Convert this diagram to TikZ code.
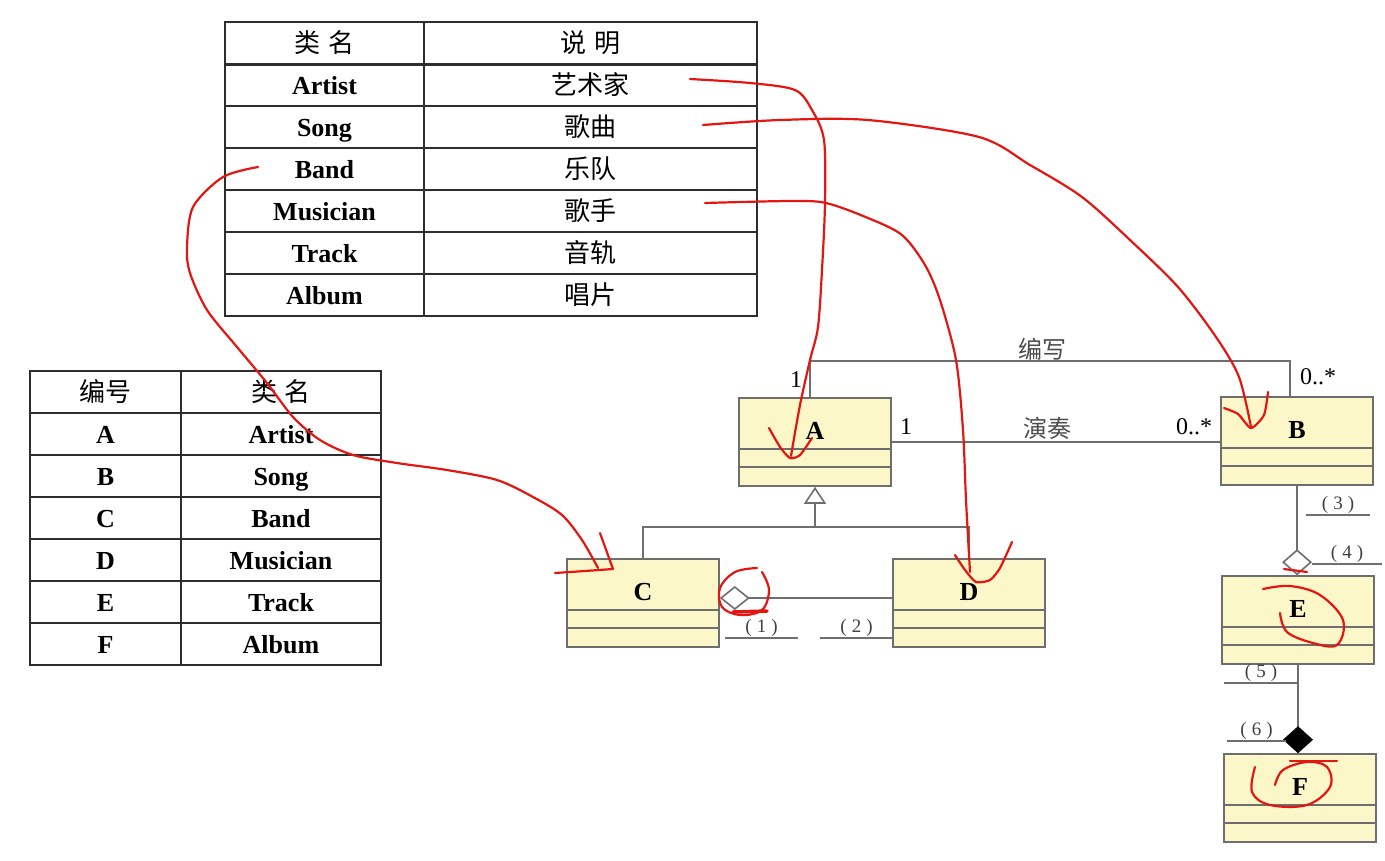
\documentclass[tikz,border=0pt]{standalone}
\usepackage{fontspec}
\setmainfont{Liberation Serif}
\newfontfamily\cjk{Noto Sans CJK SC}
\usetikzlibrary{arrows.meta,positioning,calc}
\definecolor{grid}{RGB}{45,45,45}
\definecolor{umlline}{RGB}{110,110,110}
\definecolor{umlfill}{RGB}{251,247,200}
\definecolor{ink}{RGB}{228,22,18}
\tikzset{
  cell/.style={draw=grid, line width=1.6pt, minimum height=42pt, inner sep=0pt,
               text height=21pt, text depth=3pt, font=\fontsize{26}{30}\selectfont\bfseries},
  zhcell/.style={cell, font=\fontsize{26}{30}\selectfont\cjk},
  umlclass/.style={draw=umlline, fill=umlfill, line width=1.6pt, minimum width=152pt,
               minimum height=88pt, text depth=22pt, font=\fontsize{26}{30}\selectfont\bfseries},
  assoc/.style={draw=umlline, line width=1.6pt},
  mult/.style={font=\fontsize{24}{28}\selectfont, inner sep=1pt},
  role/.style={font=\fontsize{24}{28}\selectfont\cjk, text=black!70, inner sep=1pt},
  blank/.style={font=\fontsize{19}{22}\selectfont, text=black!75, anchor=south, inner sep=1pt},
  pen/.style={ink, line width=2.2pt, line cap=round, line join=round},
}

\begin{document}
\begin{tikzpicture}[x=1pt, y=-1pt]
  \useasboundingbox (0,0) rectangle (1385,860);
  \fill[white] (0,0) rectangle (1385,860);

  % class name / description table
  \node[zhcell, minimum width=199pt] (hcls) at (324.5,43) {类\hspace{8pt}名};
  \node[zhcell, minimum width=333pt] (hdesc) at (590.5,43) {说\hspace{8pt}明};
  \foreach \en/\zh [count=\i] in {Artist/艺术家, Song/歌曲, Band/乐队, Musician/歌手, Track/音轨, Album/唱片} {
    \node[cell, minimum width=199pt] (en\i) at (324.5,{43+42*\i}) {\en};
    \node[zhcell, minimum width=333pt] (zh\i) at (590.5,{43+42*\i}) {\zh};
  }
  \draw[grid, line width=2.6pt] (hcls.south west) -- (hdesc.south east);

  % letter / class name table
  \node[zhcell, minimum width=151pt] (hkey) at (105.5,392) {编号};
  \node[zhcell, minimum width=200pt] (hname) at (281,392) {类\hspace{8pt}名};
  \foreach \k/\nm [count=\i] in {A/Artist, B/Song, C/Band, D/Musician, E/Track, F/Album} {
    \node[cell, minimum width=151pt] (k\i) at (105.5,{392+42*\i}) {\k};
    \node[cell, minimum width=200pt] (nm\i) at (281,{392+42*\i}) {\nm};
  }

  % classes
  \node[umlclass] (A) at (815,442) {A};
  \node[umlclass] (B) at (1297,441) {B};
  \node[umlclass] (C) at (643,603) {C};
  \node[umlclass] (D) at (969,603) {D};
  \node[umlclass] (E) at (1298,620) {E};
  \node[umlclass] (F) at (1300,798) {F};
  \foreach \cls in {A,B,C,D,E,F} {
    \draw[assoc] ([yshift=-52pt]\cls.north west) -- ([yshift=-52pt]\cls.north east);
    \draw[assoc] ([yshift=-70pt]\cls.north west) -- ([yshift=-70pt]\cls.north east);
  }

  % associations
  \draw[assoc] ([xshift=-5pt]A.north) -- ++(0,-36) -| ([xshift=-7pt]B.north);
  \draw[assoc] (A.east) -- (A.east -| B.west);
  \node[role] (write) at (1042,349) {编写};
  \node[role] (play) at (1047,428) {演奏};
  \node[mult] (mA1) at (796,380) {1};
  \node[mult] (mB1) at (1318,377) {0..*};
  \node[mult] (mA2) at (906,427) {1};
  \node[mult] (mB2) at (1194,427) {0..*};

  % generalization, aggregation, composition
  \draw[assoc] (C.north) |- ([yshift=-40pt]A.south) -| (D.north);
  \draw[assoc, -{Triangle[open, length=17pt, width=22pt]}] ([yshift=-40pt]A.south) -- (A.south);
  \draw[assoc, {Diamond[open, length=30pt, width=24pt]}-] ([yshift=5pt]C.east) -- ([yshift=5pt]C.east -| D.west);
  \draw[assoc, -{Diamond[open, length=26pt, width=30pt]}] (B.south) -- (B.south |- E.north);
  \draw[assoc, -{Diamond[color=black, fill=black, length=27pt, width=30pt]}] (E.south) -- (E.south |- F.north);

  % blanks
  \node[blank, minimum width=73pt] (q1) at (761.5,638) {(\hspace{5pt}1\hspace{5pt})};
  \node[blank, minimum width=73pt] (q2) at (856.5,638) {(\hspace{5pt}2\hspace{5pt})};
  \node[blank, minimum width=64pt] (q3) at (1338,515) {(\hspace{5pt}3\hspace{5pt})};
  \node[blank, minimum width=70pt] (q4) at (1347,564) {(\hspace{5pt}4\hspace{5pt})};
  \node[blank, minimum width=74pt] (q5) at (1261,683) {(\hspace{5pt}5\hspace{5pt})};
  \node[blank, minimum width=59pt] (q6) at (1256.5,741) {(\hspace{5pt}6\hspace{5pt})};
  \foreach \q in {1,...,6}
    \draw[assoc] (q\q.south west) -- (q\q.south east);

  % red pen marks
  \draw[pen] plot[smooth, tension=0.5] coordinates {(690,79) (750,83) (795,90) (812,110) (824,140) (825,203) (822,270) (818,327) (810,360) (800,405) (791,456)};
  \draw[pen] plot[smooth, tension=0.4] coordinates {(769,428) (780,447) (790,458) (800,455) (812,438)};
  \draw[pen] plot[smooth, tension=0.5] coordinates {(703,125) (780,120) (868,120) (979,137) (1030,165) (1082,197) (1130,240) (1178,287) (1216,337) (1239,377) (1251,427)};
  \draw[pen] plot[smooth, tension=0.4] coordinates {(1224,408) (1238,414) (1251,428) (1264,415) (1268,392)};
  \draw[pen] plot[smooth, tension=0.5] coordinates {(705,203) (790,201) (826,203) (868,218) (902,235) (925,265) (940,300) (956,360) (963,430) (966,500) (970,572)};
  \draw[pen] plot[smooth, tension=0.4] coordinates {(955,555) (965,570) (976,582) (990,580) (1000,568) (1012,542)};
  \draw[pen] plot[smooth, tension=0.5] coordinates {(258,167) (223,177) (193,207) (187,247) (190,273) (207,310) (237,347) (267,383) (293,417) (320,440) (353,455) (397,463) (447,470) (497,480) (533,497) (562,515) (582,540) (598,568)};
  \draw[pen] plot coordinates {(555,573) (585,571) (613,569) (600,533)};
  \draw[pen] plot[smooth, tension=0.6] coordinates {(757,568) (735,572) (720,588) (722,607) (740,615) (762,610) (769,590) (762,572)};
  \draw[pen, line width=3.5pt] (733,612) -- (767,611);
  \draw[pen] (1284,569) -- (1307,572);
  \draw[pen] plot[smooth, tension=0.6] coordinates {(1263,589) (1290,586) (1320,595) (1343,620) (1337,645) (1313,643) (1287,632) (1280,613)};
  \draw[pen] (1290,761) -- (1337,761);
  \draw[pen] plot[smooth, tension=0.6] coordinates {(1255,767) (1252,792) (1270,805) (1307,805) (1330,787) (1327,767) (1307,762) (1283,770) (1275,785)};
\end{tikzpicture}
\end{document}
